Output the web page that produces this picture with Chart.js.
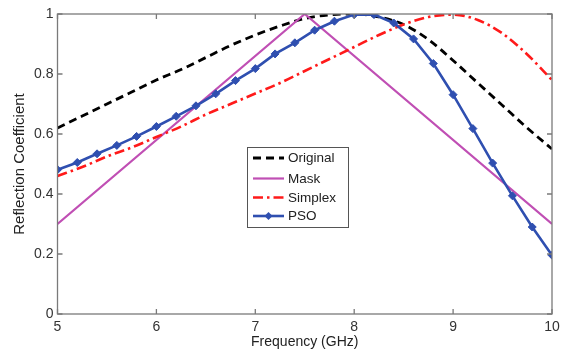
<!DOCTYPE html>
<html><head><meta charset="utf-8">
<script src="https://cdn.jsdelivr.net/npm/chart.js@4/dist/chart.umd.min.js"></script>
<style>html,body{margin:0;padding:0;background:#fff}#wrap{width:561px;height:354px}</style>
</head><body><div id="wrap"><canvas id="c" width="561" height="354"></canvas></div>
<script>
const seriesNames = ["Original", "Mask", "Simplex", "PSO"];
const xTicks = [5, 6, 7, 8, 9, 10];
const yTicks = [0, 0.2, 0.4, 0.6, 0.8, 1];

const smoothFreq = [5, 5.25, 5.5, 5.75, 6, 6.25, 6.5, 6.75, 7, 7.25, 7.5, 7.75, 8, 8.25, 8.5, 8.75, 9, 9.25, 9.5, 9.75, 10];
const originalValues = [0.62, 0.66, 0.70, 0.74, 0.78, 0.815, 0.855, 0.895, 0.93, 0.96, 0.985, 0.997, 1.0, 0.99, 0.965, 0.915, 0.845, 0.77, 0.695, 0.62, 0.55];
const simplexValues = [0.46, 0.49, 0.525, 0.555, 0.59, 0.625, 0.665, 0.70, 0.735, 0.77, 0.81, 0.85, 0.89, 0.93, 0.965, 0.99, 0.998, 0.98, 0.935, 0.865, 0.78];

const maskFreq = [5, 7.5, 10];
const maskValues = [0.3, 1.0, 0.3];

const psoFreq = [5, 5.2, 5.4, 5.6, 5.8, 6, 6.2, 6.4, 6.6, 6.8, 7, 7.2, 7.4, 7.6, 7.8, 8, 8.2, 8.4, 8.6, 8.8, 9, 9.2, 9.4, 9.6, 9.8, 10];
const psoValues = [0.481, 0.505, 0.534, 0.562, 0.592, 0.625, 0.659, 0.694, 0.734, 0.778, 0.818, 0.867, 0.904, 0.946, 0.976, 0.998, 0.998, 0.970, 0.917, 0.835, 0.731, 0.618, 0.503, 0.394, 0.290, 0.196];

const pts = (xs, ys) => xs.map((x, i) => ({x, y: ys[i]}));
const FONT = "'Liberation Sans', Arial, sans-serif";
const AXIS = '#7a7a7a';

const frame = {
  id: 'frame',
  afterDatasetsDraw(chart) {
    const {ctx, chartArea: a, scales: {x, y}} = chart;
    ctx.save();
    ctx.strokeStyle = AXIS; ctx.lineWidth = 1.3;
    ctx.strokeRect(a.left, a.top, a.right - a.left, a.bottom - a.top);
    ctx.beginPath();
    xTicks.forEach(v => { const p = x.getPixelForValue(v);
      ctx.moveTo(p, a.bottom); ctx.lineTo(p, a.bottom - 5);
      ctx.moveTo(p, a.top); ctx.lineTo(p, a.top + 5); });
    yTicks.forEach(v => { const p = y.getPixelForValue(v);
      ctx.moveTo(a.left, p); ctx.lineTo(a.left + 5, p);
      ctx.moveTo(a.right, p); ctx.lineTo(a.right - 5, p); });
    ctx.stroke();
    // legend
    const lx = 247, ly = 147, lw = 101, lh = 80;
    ctx.fillStyle = '#fff'; ctx.fillRect(lx, ly, lw, lh);
    ctx.strokeStyle = '#555'; ctx.lineWidth = 1; ctx.strokeRect(lx + 0.5, ly + 0.5, lw, lh);
    const rows = [158, 178.5, 197.5, 216];
    chart.data.datasets.forEach((ds, i) => {
      const yy = rows[i];
      ctx.strokeStyle = ds.borderColor; ctx.lineWidth = ds.borderWidth;
      ctx.setLineDash(ds.borderDash || []);
      ctx.beginPath(); ctx.moveTo(253, yy); ctx.lineTo(284, yy); ctx.stroke();
      ctx.setLineDash([]);
      if (ds.pointRadius > 0) {
        ctx.fillStyle = ds.borderColor; ctx.beginPath();
        ctx.moveTo(268.5, yy - 4); ctx.lineTo(272.5, yy); ctx.lineTo(268.5, yy + 4); ctx.lineTo(264.5, yy); ctx.closePath(); ctx.fill();
      }
      ctx.fillStyle = '#222'; ctx.font = '13.5px ' + FONT; ctx.textBaseline = 'middle'; ctx.textAlign = 'left';
      ctx.fillText(ds.label, 288, yy + 0.5);
    });
    ctx.restore();
  }
};

new Chart(document.getElementById('c'), {
  type: 'line',
  data: { datasets: [
    { label: seriesNames[0], data: pts(smoothFreq, originalValues), borderColor: '#000000', borderWidth: 2.8, borderDash: [8, 5], pointRadius: 0, cubicInterpolationMode: 'monotone', order: 3 },
    { label: seriesNames[1], data: pts(maskFreq, maskValues), borderColor: '#c04fb4', borderWidth: 2.2, pointRadius: 0, tension: 0, order: 2 },
    { label: seriesNames[2], data: pts(smoothFreq, simplexValues), borderColor: '#ff1a1a', borderWidth: 2.6, borderDash: [10, 4, 2.5, 4], pointRadius: 0, cubicInterpolationMode: 'monotone', order: 1 },
    { label: seriesNames[3], data: pts(psoFreq, psoValues), borderColor: '#2f4fb0', backgroundColor: '#2f4fb0', borderWidth: 2.6, pointStyle: 'rectRot', pointRadius: 4, pointBorderWidth: 1, tension: 0, order: 0 }
  ]},
  options: {
    responsive: false, animation: false, devicePixelRatio: 1,
    layout: { padding: { left: 0, right: 9, top: 14, bottom: 0 } },
    plugins: { legend: { display: false }, tooltip: { enabled: false } },
    scales: {
      x: { type: 'linear', min: 5, max: 10,
        afterBuildTicks: s => { s.ticks = xTicks.map(v => ({value: v})); },
        grid: { display: false, drawTicks: false }, border: { display: false },
        ticks: { color: '#333', font: { family: FONT, size: 14 }, padding: 5, maxRotation: 0 },
        title: { display: true, text: 'Frequency (GHz)', color: '#222', font: { family: FONT, size: 14 }, padding: { top: 1, bottom: 3 } },
        afterFit: s => { s.height = 40; s.paddingLeft = 0; s.paddingRight = 0; } },
      y: { min: 0, max: 1,
        afterBuildTicks: s => { s.ticks = yTicks.map(v => ({value: v})); },
        grid: { display: false, drawTicks: false }, border: { display: false },
        ticks: { color: '#333', font: { family: FONT, size: 14 }, padding: 4, callback: v => String(v) },
        title: { display: true, text: 'Reflection Coefficient', color: '#222', font: { family: FONT, size: 15 }, padding: { top: 11, bottom: 0 } },
        afterFit: s => { s.width = 57.5; s.paddingTop = 0; s.paddingBottom = 0; } }
    }
  },
  plugins: [frame]
});
</script></body></html>
